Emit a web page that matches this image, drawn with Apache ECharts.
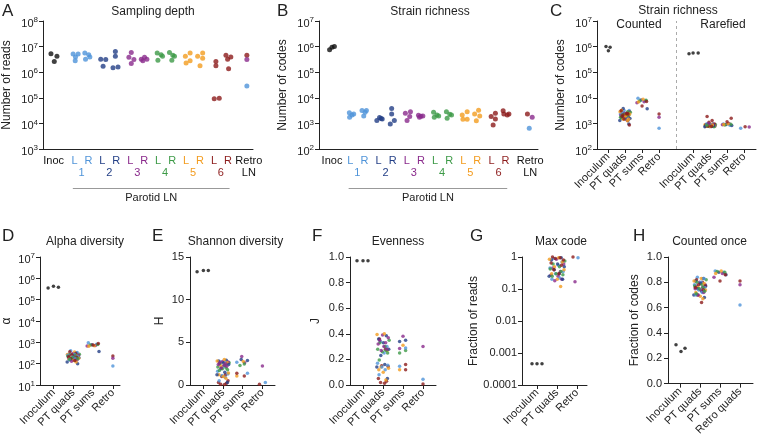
<!DOCTYPE html>
<html><head><meta charset="utf-8">
<script src="https://cdn.jsdelivr.net/npm/echarts@6/dist/echarts.min.js"></script>
<style>html,body{margin:0;padding:0;background:#fff}#c{width:757px;height:438px}</style>
</head><body><div id="c"></div>
<script>
const FONT = '"Liberation Sans", Arial, Helvetica, sans-serif';
const TXT = '#222';
const COLORS = ['#111111','#4f94d9','#233f86','#8a2a8c','#3d9a47','#f39c1f','#8c1b1b'];

// ---- Panels A & B: categories ----
const lnLabels = ['Inoc','L','R','L','R','L','R','L','R','L','R','L','R','Retro'];
const lnLabelColor = [0,1,1,2,2,3,3,4,4,5,5,6,6,0];
const animalLabels = ['1','2','3','4','5','6','LN'];
const animalLabelColor = [1,2,3,4,5,6,0];
const posA = [0,1.5,2.5,3.5,4.5,5.5,6.5,7.5,8.5,9.5,10.5,11.5,12.5,14];
const animalPosA = [2,4,6,8,10,12,14];
const posB = [0,1.3,2.3,3.3,4.3,5.3,6.3,7.3,8.3,9.3,10.3,11.3,12.3,14.05];
const animalPosB = [1.8,3.8,5.8,7.8,9.8,11.8,14.05];

// [group, jitter, value, color]
const depthRows = [
 [0,-0.19,5.2e6,0],[0,0.24,4.2e6,0],[0,0.05,2.6e6,0],
 [1,-0.1,5.1e6,1],[1,0.26,5.1e6,1],[1,0.07,3.9e6,1],[1,0.05,2.8e6,1],
 [2,-0.26,5.6e6,1],[2,0.02,4.8e6,1],[2,0.1,3.9e6,1],[2,-0.21,3.2e6,1],
 [3,-0.12,3.2e6,2],[3,0.24,3.1e6,2],[3,0.05,1.7e6,2],
 [4,-0.07,6.5e6,2],[4,-0.07,4.2e6,2],[4,-0.24,1.5e6,2],[4,0.12,1.6e6,2],
 [5,0.07,5.9e6,3],[5,-0.1,3.8e6,3],[5,0.26,3.1e6,3],[5,0.07,2.2e6,3],
 [6,-0.21,3.2e6,3],[6,0.02,3.8e6,3],[6,0.19,3.2e6,3],[6,-0.1,2.8e6,3],
 [7,-0.07,5.6e6,4],[7,0.21,4.8e6,4],[7,0.31,4.2e6,4],[7,-0.02,2.9e6,4],
 [8,-0.19,5.9e6,4],[8,0.05,4.6e6,4],[8,0.17,4.2e6,4],[8,-0.02,2.9e6,4],
 [9,-0.05,4.2e6,5],[9,0.29,5.6e6,5],[9,0.29,2.8e6,5],[9,0,2.3e6,5],
 [10,-0.17,4.2e6,5],[10,0.19,5.6e6,5],[10,0.19,3.5e6,5],[10,0,1.8e6,5],
 [11,0.14,2.6e6,6],[11,0.14,1.8e6,6],[11,0.02,9.1e4,6],[11,0.38,9.5e4,6],
 [12,-0.14,4.6e6,6],[12,0.21,3.9e6,6],[12,-0.02,3.2e6,6],[12,0.05,1.35e6,6],
 [13,-0.14,4.6e6,6],[13,-0.14,3.1e6,3],[13,-0.14,2.9e5,1]
];
const richRows = [
 [0,-0.17,7.6e5,0],[0,0,9.5e5,0],[0,0.17,1.0e6,0],
 [1,-0.07,2630,1],[1,-0.05,1740,1],[1,0.12,2140,1],[1,0.24,2340,1],
 [2,-0.17,3160,1],[2,0.14,3160,1],[2,-0.05,1950,1],[2,0.05,2700,1],
 [3,-0.12,1290,2],[3,0.07,1700,2],[3,0.26,1480,2],[3,0.18,1550,2],
 [4,-0.07,3800,2],[4,-0.07,2340,2],[4,0.12,1290,2],[4,-0.17,955,2],
 [5,-0.1,2500,3],[5,0.26,2880,3],[5,0.21,1860,3],[5,0.02,1290,3],
 [6,-0.17,2100,3],[6,0,1900,3],[6,0.14,1950,3],[6,-0.1,1750,3],
 [7,-0.1,2750,4],[7,0.14,2140,4],[7,0.26,1950,4],[7,-0.05,1740,4],
 [8,-0.19,2880,4],[8,0.05,2290,4],[8,0.17,2140,4],[8,-0.14,1590,4],
 [9,-0.07,2140,5],[9,0.28,2880,5],[9,0.28,1450,5],[9,-0.02,1450,5],
 [10,-0.19,2340,5],[10,0.09,3300,5],[10,0.17,1950,5],[10,-0.07,1260,5],
 [11,-0.02,1860,6],[11,0.28,2500,6],[11,0.28,1480,6],[11,0.12,870,6],
 [12,-0.17,3090,6],[12,-0.12,2340,6],[12,0.12,2140,6],[12,0.24,2340,6],
 [13,-0.2,2340,6],[13,0.14,1740,3],[13,-0.07,645,1]
];

// ---- Tick values ----
const ticksA = [1e3,1e4,1e5,1e6,1e7,1e8];
const ticksB = [1e2,1e3,1e4,1e5,1e6,1e7];
const ticksD = [1e1,1e2,1e3,1e4,1e5,1e6,1e7];
const ticksG = [1e-4,1e-3,1e-2,1e-1,1];
const ticksGLabels = ['0.0001','0.001','0.01','0.1','1'];

// ---- Summary categories ----
const catsC = ['Inoculum','PT quads','PT sums','Retro','Inoculum','PT quads','PT sums','Retro'];
const posC = [0,1,2,3,5,6,7,8];
const cats4 = ['Inoculum','PT quads','PT sums','Retro'];
const catsG = ['Inoculum','PT quads','Retro'];
const catsH = ['Inoculum','PT quads','PT sums','Retro quads'];
const pos4 = [0,1,2,3];
const pos3 = [0,1,2];

// jitter layouts read from the cloud shapes
const jq = [-0.12,0.18,0.05,-0.25,0.22,-0.05,0.1,-0.18,
  0.15,-0.2,0.02,0.26,-0.1,0.08,-0.28,0.2,
  -0.02,0.24,-0.15,0.12,-0.22,0.04,0.17,-0.08,
  0.28,-0.14,0.09,-0.24,0.14,-0.03,0.21,-0.17,
  0.06,-0.27,0.19,-0.09,0.25,-0.19,0.01,0.13,
  -0.16,0.11,-0.06,0.23,-0.21,0.16,-0.11,0.07];
const js = [-0.2,0.15,-0.05,0.25,0.1,-0.25,0.2,-0.12,0.05,-0.18,0.22,0.0];

// C: strain richness counted / rarefied
const cInocCounted = [[-0.12,1.0e6,0],[0.12,9.5e5,0],[0.02,6.9e5,0]];
const cSumsCounted = [[1,9500],[1,7800],[2,8200],[2,3700],[3,7000],[3,6400],[4,8000],[4,7500],[5,8800],[5,6900],[6,7200],[6,4800]];
const cRetroCounted = [[0,2340,6],[0,1740,3],[0,645,1]];
const cInocRare = [[-0.24,5.2e5,0],[0,5.6e5,0],[0.3,5.6e5,0]];
const cQuadsRare = [
 [900,850,820,800,780,760,880,950],
 [950,900,850,800,780,760,740,820],
 [880,850,830,800,780,760,900,1000],
 [900,860,830,800,780,760,740,850],
 [920,880,840,810,790,770,750,860],
 [1850,1300,1100,950,900,850,800,780]];
const cSumsRare = [[1,950],[1,850],[2,900],[2,820],[3,1000],[3,880],[4,930],[4,870],[5,960],[5,900],[6,1600],[6,1150]];
const cRetroRare = [[-0.2,645,1],[0.06,740,6],[0.3,720,3]];

// D: alpha diversity
const alphaInoc = [[-0.27,3.5e5,0],[0,4.2e5,0],[0.25,3.8e5,0]];
const alphaQuads = [
 [400,330,280,250,220,200,170,150],
 [320,260,220,190,160,140,120,100],
 [300,250,230,210,190,170,150,130],
 [280,260,240,220,200,190,170,160],
 [350,270,230,200,180,160,140,120],
 [360,300,260,230,210,190,170,140]];
const alphaSums = [[1,950],[1,820],[2,780],[2,370],[3,720],[3,680],[4,800],[4,760],[5,700],[5,650],[6,870],[6,740]];
const alphaRetro = [[0,230,6],[0,180,3],[0,78,1]];

// E: Shannon diversity
const shannonInoc = [[-0.32,13.27,0],[0,13.43,0],[0.25,13.43,0]];
const shannonQuads = [
 [2.7,2.5,2.2,1.6,1.3,1.1,0.9,0.5],
 [2.9,2.8,2.6,2.4,1.9,1.5,1.2,0.3],
 [2.75,2.7,2.6,2.5,2.4,2.3,2.2,2.0],
 [2.6,2.5,2.3,2.1,2.0,1.9,1.8,1.7],
 [3.0,2.8,2.6,2.2,1.4,1.2,1.0,0.8],
 [2.5,1.2,1.0,0.5,0.3,0.2,0.1,0.05]];
const shannonSums = [[-0.05,3.34,3],[0.1,2.6,3],[-0.3,2.67,1],[0.24,1.37,1],[-0.08,3.0,2],[0.24,2.87,2],[0.03,2.75,5],[-0.3,1.06,5],[-0.14,2.28,4],[0.08,2.45,4],[-0.3,1.37,6],[0.08,1.06,6]];
const shannonRetro = [[-0.15,0.08,6],[0,2.24,3],[0.15,0.3,1]];

// F: evenness
const evenInoc = [[-0.3,0.97,0],[0,0.97,0],[0.25,0.97,0]];
const evenQuads = [
 [0.34,0.30,0.25,0.17,0.155,0.14,0.12,0.08],
 [0.385,0.36,0.33,0.28,0.23,0.16,0.14,0.05],
 [0.39,0.37,0.35,0.33,0.32,0.30,0.28,0.27],
 [0.35,0.33,0.30,0.28,0.27,0.26,0.25,0.195],
 [0.40,0.395,0.27,0.14,0.13,0.12,0.10,0.04],
 [0.36,0.28,0.15,0.145,0.05,0.03,0.02,0.013]];
const evenSums = [[-0.17,0.34,2],[0.13,0.35,2],[-0.17,0.285,3],[0.0,0.38,3],[0.0,0.31,5],[-0.17,0.12,5],[-0.17,0.25,4],[0.13,0.27,4],[0.13,0.29,1],[-0.17,0.147,1],[0.13,0.16,6],[0.13,0.12,6]];
const evenRetro = [[0,0.30,3],[0,0.045,1],[0,0.008,6]];

// G: max code
const maxInoc = [[-0.25,4.6e-4,0],[0,4.6e-4,0],[0.25,4.6e-4,0]];
const maxQuads = [
 [0.9,0.7,0.55,0.45,0.35,0.3,0.22,0.2],
 [0.95,0.8,0.6,0.5,0.4,0.3,0.25,0.2],
 [0.85,0.6,0.45,0.35,0.27,0.25,0.2,0.18],
 [0.75,0.6,0.5,0.42,0.35,0.3,0.28,0.25],
 [0.95,0.85,0.7,0.5,0.4,0.3,0.2,0.12],
 [1.0,0.95,0.9,0.8,0.65,0.55,0.4,0.3]];
const maxRetro = [[-0.2,1.0,6],[0.05,0.95,1],[-0.1,0.17,3]];

// H: counted once
const onceInoc = [[-0.2,0.306,0],[0.05,0.254,0],[0.25,0.28,0]];
const onceQuads = [
 [0.84,0.83,0.80,0.78,0.76,0.74,0.72,0.70],
 [0.83,0.81,0.79,0.77,0.75,0.73,0.70,0.68],
 [0.80,0.78,0.77,0.76,0.75,0.74,0.72,0.70],
 [0.82,0.80,0.78,0.77,0.76,0.75,0.73,0.71],
 [0.83,0.81,0.79,0.76,0.74,0.72,0.69,0.67],
 [0.82,0.80,0.78,0.77,0.76,0.74,0.70,0.64]];
const onceSums = [[1,0.89],[1,0.88],[2,0.88],[2,0.86],[3,0.87],[3,0.84],[4,0.88],[4,0.885],[5,0.89],[5,0.87],[6,0.86],[6,0.81]];
const onceRetro = [[0,0.81,6],[0,0.78,3],[0,0.62,1]];

// ---------- builders ----------
function pt(x, y, c) { return { value: [x, y], itemStyle: { color: COLORS[c] } }; }
function jvcData(pos, arr) { return arr.map(r => pt(pos + r[0], r[1], r[2])); }
function quadsData(pos, arr, spread) {
  const out = [];
  for (let i = 0; i < 8; i++) for (let a = 0; a < arr.length; a++) out.push(pt(pos + jq[a*8+i]*spread, arr[a][i], a+1));
  return out;
}
function sumsData(pos, arr, spread) { return arr.map((r, k) => pt(pos + js[k]*spread, r[1], r[0])); }

const richStyles = {};
COLORS.forEach((c, i) => { richStyles['c' + i] = { color: c, fontSize: 11, fontFamily: FONT }; });
function findIdx(pos, v) { return pos.findIndex(p => Math.abs(p - v) < 1e-6); }

const grids = [], xAxes = [], yAxes = [], series = [];
const axLine = { show: true, onZero: false, lineStyle: { color: '#222', width: 1 } };
const lblBase = { color: TXT, fontSize: 11, fontFamily: FONT, showMinLabel: true, showMaxLabel: true, hideOverlap: false };

function addGrid(l, t, w, h) { grids.push({ left: l, top: t, width: w, height: h, containLabel: false }); return grids.length - 1; }
function addCatX(g, min, max, pos, labels, opts) {
  opts = opts || {};
  xAxes.push({
    type: 'value', gridIndex: g, min, max, position: 'bottom', offset: opts.offset || 0,
    axisLine: opts.noLine ? { show: false } : axLine,
    axisTick: { show: !!opts.ticks, customValues: pos, length: 4, lineStyle: { color: '#222' } },
    splitLine: { show: false },
    axisLabel: Object.assign({}, lblBase, {
      customValues: pos, margin: opts.margin || 5, rotate: opts.rotate || 0,
      formatter: v => { const i = findIdx(pos, v); if (i < 0) return ''; return opts.colors ? '{c' + opts.colors[i] + '|' + labels[i] + '}' : labels[i]; },
      rich: richStyles
    })
  });
  return xAxes.length - 1;
}
const supRich = { s: { fontSize: 8, verticalAlign: 'top', color: TXT, fontFamily: FONT } };
function addLogY(g, ticks, name, gap, labels) {
  yAxes.push({
    type: 'log', logBase: 10, gridIndex: g, min: ticks[0] * 0.9999, max: ticks[ticks.length - 1] * 1.0001,
    name, nameLocation: 'middle', nameGap: gap,
    nameTextStyle: { color: TXT, fontSize: 12, fontFamily: FONT },
    axisLine: axLine, axisTick: { show: true, customValues: ticks, length: 4, lineStyle: { color: '#222' } },
    splitLine: { show: false }, minorTick: { show: false },
    axisLabel: Object.assign({}, lblBase, {
      customValues: ticks, margin: 5, lineHeight: labels ? 13 : 15, padding: labels ? 0 : [5, 0, 0, 0],
      formatter: v => { if (labels) { const i = ticks.findIndex(t => Math.abs(t - v) / t < 1e-3); return i < 0 ? '' : labels[i]; } return '10{s|' + Math.round(Math.log10(v)) + '}'; },
      rich: supRich
    })
  });
  return yAxes.length - 1;
}
function addLinY(g, max, interval, name, gap, digits) {
  yAxes.push({
    type: 'value', gridIndex: g, min: 0, max, interval,
    name, nameLocation: 'middle', nameGap: gap,
    nameTextStyle: { color: TXT, fontSize: 12, fontFamily: FONT },
    axisLine: axLine, axisTick: { show: true, length: 4, lineStyle: { color: '#222' } },
    splitLine: { show: false },
    axisLabel: Object.assign({}, lblBase, { margin: 6, formatter: v => v.toFixed(digits) })
  });
  return yAxes.length - 1;
}
function addScatter(x, y, data, size, extra) {
  series.push(Object.assign({ type: 'scatter', xAxisIndex: x, yAxisIndex: y, data, symbolSize: size, clip: false, silent: true, animation: false }, extra || {}));
}

// Panel A
const gA = addGrid(42, 21, 211, 128);
const xA = addCatX(gA, -0.76, 14.3, posA, lnLabels, { colors: lnLabelColor, margin: 6 });
const xA2 = addCatX(gA, -0.76, 14.3, animalPosA, animalLabels, { colors: animalLabelColor, margin: 6, offset: 12, noLine: true });
const yA = addLogY(gA, ticksA, 'Number of reads', 30);
addScatter(xA, yA, depthRows.map(r => pt(posA[r[0]] + r[1], r[2], r[3])), 5);

// Panel B
const gB = addGrid(319, 21, 219, 128);
const xB = addCatX(gB, -0.92, 14.6, posB, lnLabels, { colors: lnLabelColor, margin: 6 });
const xB2 = addCatX(gB, -0.92, 14.6, animalPosB, animalLabels, { colors: animalLabelColor, margin: 6, offset: 12, noLine: true });
const yB = addLogY(gB, ticksB, 'Number of codes', 30);
addScatter(xB, yB, richRows.map(r => pt(posB[r[0]] + r[1], r[2], r[3])), 5);

// Panel C
const gC = addGrid(597, 21, 159, 128);
const xC = addCatX(gC, -0.65, 8.7, posC, catsC, { ticks: true, rotate: 45, margin: 6 });
const yC = addLogY(gC, ticksB, 'Number of codes', 30);
const lnRows = richRows.filter(r => r[0] >= 1 && r[0] <= 12);
addScatter(xC, yC, [].concat(
  jvcData(posC[0], cInocCounted),
  lnRows.map((r, k) => pt(posC[1] + jq[k] * 1.1, r[2], r[3])),
  sumsData(posC[2], cSumsCounted, 1.2),
  jvcData(posC[3], cRetroCounted),
  jvcData(posC[4], cInocRare),
  quadsData(posC[5], cQuadsRare, 1.1),
  sumsData(posC[6], cSumsRare, 1.1),
  jvcData(posC[7], cRetroRare)
), 3.5, { markLine: { silent: true, symbol: 'none', label: { show: false }, animation: false,
  lineStyle: { type: [3, 3], color: '#aaa', width: 1 }, data: [{ xAxis: 4 }] } });

// Panel D
const gD = addGrid(40, 257, 80, 128);
const xD = addCatX(gD, -0.68, 3.36, pos4, cats4, { ticks: true, rotate: 45, margin: 6 });
const yD = addLogY(gD, ticksD, 'α', 27);
addScatter(xD, yD, [].concat(jvcData(0, alphaInoc), quadsData(1, alphaQuads, 1.1), sumsData(2, alphaSums, 1.2), jvcData(3, alphaRetro)), 3.5);

// Panel E
const gE = addGrid(190, 257, 85, 128);
const xE = addCatX(gE, -0.68, 3.64, pos4, cats4, { ticks: true, rotate: 45, margin: 6 });
const yE = addLinY(gE, 15, 5, 'H', 24, 0);
addScatter(xE, yE, [].concat(jvcData(0, shannonInoc), quadsData(1, shannonQuads, 1.1), jvcData(2, shannonSums), jvcData(3, shannonRetro)), 3.5);

// Panel F
const gF = addGrid(350, 257, 86, 128);
const xF = addCatX(gF, -0.65, 3.65, pos4, cats4, { ticks: true, rotate: 45, margin: 6 });
const yF = addLinY(gF, 1, 0.2, 'J', 28, 1);
addScatter(xF, yF, [].concat(jvcData(0, evenInoc), quadsData(1, evenQuads, 1.1), jvcData(2, evenSums), jvcData(3, evenRetro)), 3.5);

// Panel G
const gG = addGrid(522, 257, 65, 128);
const xG = addCatX(gG, -0.75, 2.5, pos3, catsG, { ticks: true, rotate: 45, margin: 6 });
const yG = addLogY(gG, ticksG, 'Fraction of reads', 39, ticksGLabels);
addScatter(xG, yG, [].concat(jvcData(0, maxInoc), quadsData(1, maxQuads, 1.4), jvcData(2, maxRetro)), 3.5);

// Panel H
const gH = addGrid(668, 257, 85, 128);
const xH = addCatX(gH, -0.6, 3.65, pos4, catsH, { ticks: true, rotate: 45, margin: 6 });
const yH = addLinY(gH, 1, 0.2, 'Fraction of codes', 27, 1);
addScatter(xH, yH, [].concat(jvcData(0, onceInoc), quadsData(1, onceQuads, 1.1), sumsData(2, onceSums, 1.2), jvcData(3, onceRetro)), 3.5);

// ---------- texts ----------
function txt(text, x, y, size, align) {
  return { type: 'text', x, y, silent: true, style: { text, font: size + 'px ' + FONT, fill: TXT, align: align || 'center', verticalAlign: 'middle', textAlign: align || 'center', textVerticalAlign: 'middle' } };
}
const graphics = [
  txt('A', 2, 11, 17, 'left'), txt('B', 277, 11, 17, 'left'), txt('C', 550, 11, 17, 'left'),
  txt('D', 2, 236, 17, 'left'), txt('E', 152, 236, 17, 'left'), txt('F', 312, 236, 17, 'left'),
  txt('G', 470, 236, 17, 'left'), txt('H', 633, 236, 17, 'left'),
  txt('Sampling depth', 153, 12, 12), txt('Strain richness', 430, 12, 12), txt('Strain richness', 678, 11, 12),
  txt('Counted', 639, 24.5, 12), txt('Rarefied', 723, 24.5, 12),
  txt('Alpha diversity', 85, 241.5, 12), txt('Shannon diversity', 235.5, 241.5, 12), txt('Evenness', 398, 241.5, 12),
  txt('Max code', 561, 241.5, 12), txt('Counted once', 709.5, 241.5, 12)
];

const chart = echarts.init(document.getElementById('c'), null, { renderer: 'canvas' });
chart.setOption({ animation: false, backgroundColor: '#fff', grid: grids, xAxis: xAxes, yAxis: yAxes, series, graphic: graphics });

// underline + "Parotid LN" under the lymph-node groups
function lnDecor(xi, pos) {
  const x1 = chart.convertToPixel({ xAxisIndex: xi }, pos[1] - 0.12);
  const x2 = chart.convertToPixel({ xAxisIndex: xi }, pos[12] + 0.12);
  const xm = chart.convertToPixel({ xAxisIndex: xi }, (pos[1] + pos[12]) / 2);
  return [
    { type: 'line', silent: true, shape: { x1, y1: 188.5, x2, y2: 188.5 }, style: { stroke: '#999', lineWidth: 1 } },
    txt('Parotid LN', xm, 197.5, 11)
  ];
}
chart.setOption({ graphic: graphics.concat(lnDecor(xA, posA), lnDecor(xB, posB)) });
</script></body></html>
